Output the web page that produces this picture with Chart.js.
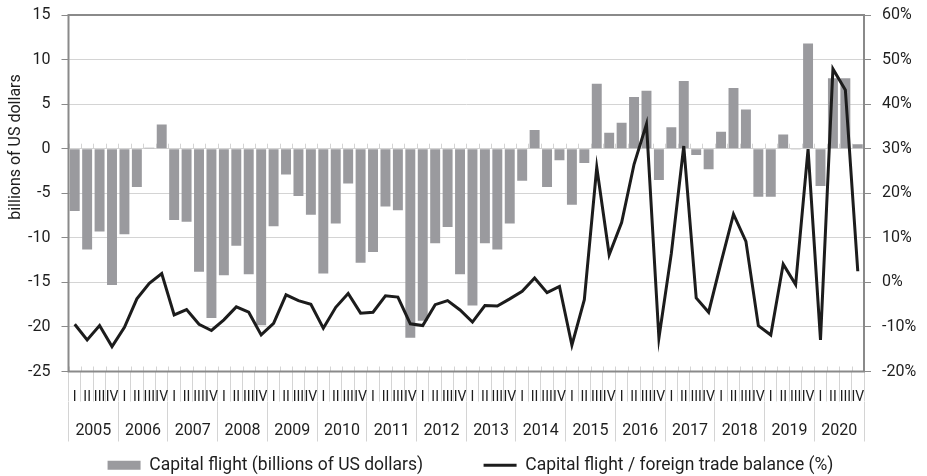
<!DOCTYPE html>
<html>
<head>
<meta charset="utf-8">
<script src="https://cdn.jsdelivr.net/npm/chart.js@4.4.1/dist/chart.umd.min.js"></script>
<style>
  html, body { margin: 0; padding: 0; background: #fff; }
  #wrap { width: 927px; height: 476px; }
</style>
</head>
<body>
<div id="wrap"><canvas id="chart" width="927" height="476"></canvas></div>
<script>
var years = ['2005', '2006', '2007', '2008', '2009', '2010', '2011', '2012',
  '2013', '2014', '2015', '2016', '2017', '2018', '2019', '2020'];
var quarters = ['I', 'II', 'III', 'IV'];

// billions of US dollars, quarterly
var capitalFlight = [
  -7.0, -11.3, -9.3, -15.3,
  -9.6, -4.3, 0.1, 2.7,
  -8.0, -8.2, -13.8, -19.0,
  -14.2, -10.9, -14.1, -19.8,
  -8.7, -2.9, -5.3, -7.4,
  -14.0, -8.4, -3.9, -12.8,
  -11.6, -6.5, -6.9, -21.2,
  -19.3, -10.6, -8.8, -14.1,
  -17.6, -10.6, -11.3, -8.4,
  -3.6, 2.1, -4.3, -1.3,
  -6.3, -1.6, 7.3, 1.8,
  2.9, 5.8, 6.5, -3.5,
  2.4, 7.6, -0.7, -2.3,
  1.9, 6.8, 4.4, -5.4,
  -5.4, 1.6, -0.1, 11.8,
  -4.2, 7.9, 7.9, 0.5
];

// capital flight / foreign trade balance, %
var flightToTrade = [
  -9.4, -12.9, -9.7, -14.4,
  -10.1, -3.7, -0.2, 2.0,
  -7.3, -6.1, -9.4, -10.8,
  -8.4, -5.5, -6.7, -11.8,
  -9.2, -2.8, -4.1, -4.9,
  -10.3, -5.6, -2.5, -6.9,
  -6.7, -3.0, -3.3, -9.3,
  -9.7, -5.0, -4.1, -6.2,
  -8.9, -5.2, -5.3, -3.7,
  -2.0, 1.0, -2.3, -0.9,
  -14.1, -3.9, 25.8, 6.2,
  13.4, 26.5, 35.5, -12.5,
  6.5, 30.6, -3.5, -6.7,
  4.5, 15.3, 9.2, -9.7,
  -11.8, 4.1, -0.5, 29.9,
  -12.9, 47.9, 43.2, 2.5
];

var categories = [];
years.forEach(function(y) {
  quarters.forEach(function(q) { categories.push(q); });
});

var FONT = 'Roboto';
var TEXT = '#1e1e1e';
var GRID = '#d4d4d4';
var FRAME = '#8a8a8a';

Chart.defaults.font.family = FONT;
Chart.defaults.color = TEXT;

// frame around plot, small ticks on the zero line, rotated left title
var decorations = {
  id: 'decorations',
  beforeDatasetsDraw: function(chart) {
    var ctx = chart.ctx;
    var area = chart.chartArea;
    var x = chart.scales.x;
    var y0 = chart.scales.y.getPixelForValue(0);
    ctx.save();
    ctx.strokeStyle = GRID;
    ctx.lineWidth = 1;
    for (var i = 0; i <= categories.length; i++) {
      var px = Math.round(x.getPixelForValue(i - 0.5)) + 0.5;
      ctx.beginPath();
      ctx.moveTo(px, y0 - 5);
      ctx.lineTo(px, y0);
      ctx.moveTo(px, area.bottom - 5);
      ctx.lineTo(px, area.bottom);
      ctx.stroke();
    }
    ctx.restore();
  },
  afterDraw: function(chart) {
    var ctx = chart.ctx;
    var area = chart.chartArea;
    ctx.save();
    ctx.strokeStyle = FRAME;
    ctx.lineWidth = 2;
    ctx.strokeRect(area.left, area.top, area.right - area.left, area.bottom - area.top);
    ctx.translate(16, 147);
    ctx.rotate(-Math.PI / 2);
    ctx.fillStyle = TEXT;
    ctx.font = '16px ' + FONT;
    ctx.textAlign = 'center';
    ctx.textBaseline = 'middle';
    ctx.fillText('billions of US dollars', 0, 0);
    ctx.restore();
  }
};

function fixWidth(w) {
  return function(s) {
    s.width = w;
    s.paddingTop = 5;
    s.paddingBottom = 5;
  };
}

new Chart(document.getElementById('chart'), {
  type: 'bar',
  data: {
    labels: categories,
    datasets: [
      {
        type: 'bar',
        label: 'Capital flight (billions of US dollars)',
        data: capitalFlight,
        yAxisID: 'y',
        backgroundColor: '#9a9a9e',
        borderWidth: 0,
        barPercentage: 0.8,
        categoryPercentage: 1,
        pointStyle: 'rect',
        order: 1
      },
      {
        type: 'line',
        label: 'Capital flight / foreign trade balance (%)',
        data: flightToTrade,
        yAxisID: 'y1',
        borderColor: '#1c1c1c',
        backgroundColor: '#1c1c1c',
        borderWidth: 3,
        pointRadius: 0,
        tension: 0,
        pointStyle: 'line',
        order: 0
      }
    ]
  },
  options: {
    responsive: false,
    animation: false,
    layout: { padding: { top: 15, left: 14, right: 0, bottom: -8 } },
    plugins: {
      tooltip: { enabled: false },
      legend: {
        position: 'bottom',
        labels: {
          usePointStyle: true,
          pointStyleWidth: 33,
          boxHeight: 9,
          padding: 4,
          color: TEXT,
          font: { size: 17.5 },
          sort: function(a, b) { return a.datasetIndex - b.datasetIndex; },
          generateLabels: function(chart) {
            var items = Chart.defaults.plugins.legend.labels.generateLabels(chart);
            items.forEach(function(it) {
              if (it.datasetIndex === 0) it.text = it.text + '             ';
            });
            return items;
          }
        }
      }
    },
    scales: {
      x: {
        type: 'category',
        position: 'bottom',
        offset: true,
        grid: { offset: true, drawOnChartArea: false, tickLength: 30, color: GRID },
        border: { display: false },
        ticks: { autoSkip: false, maxRotation: 0, minRotation: 0, font: { size: 14 }, padding: -12, color: TEXT },
        afterFit: function(s) { s.height = 30; }
      },
      x2: {
        type: 'category',
        position: 'bottom',
        labels: years,
        offset: true,
        grid: { offset: true, drawOnChartArea: false, tickLength: 40, color: GRID },
        border: { display: false },
        ticks: { autoSkip: false, maxRotation: 0, minRotation: 0, font: { size: 16 }, padding: -20, color: TEXT },
        afterFit: function(s) { s.height = 51; }
      },
      y: {
        position: 'left',
        min: -25,
        max: 15,
        ticks: { stepSize: 5, font: { size: 16 }, padding: 11, color: TEXT },
        grid: { color: GRID, tickLength: 7, tickColor: FRAME },
        border: { display: false },
        afterFit: fixWidth(54.5)
      },
      y1: {
        position: 'right',
        min: -20,
        max: 60,
        ticks: {
          stepSize: 10,
          font: { size: 16 },
          padding: 11,
          color: TEXT,
          callback: function(v) { return v + '%'; }
        },
        grid: { drawOnChartArea: false, tickLength: 7, color: FRAME },
        border: { display: false },
        afterFit: fixWidth(63)
      }
    }
  },
  plugins: [decorations]
});
</script>
</body>
</html>
